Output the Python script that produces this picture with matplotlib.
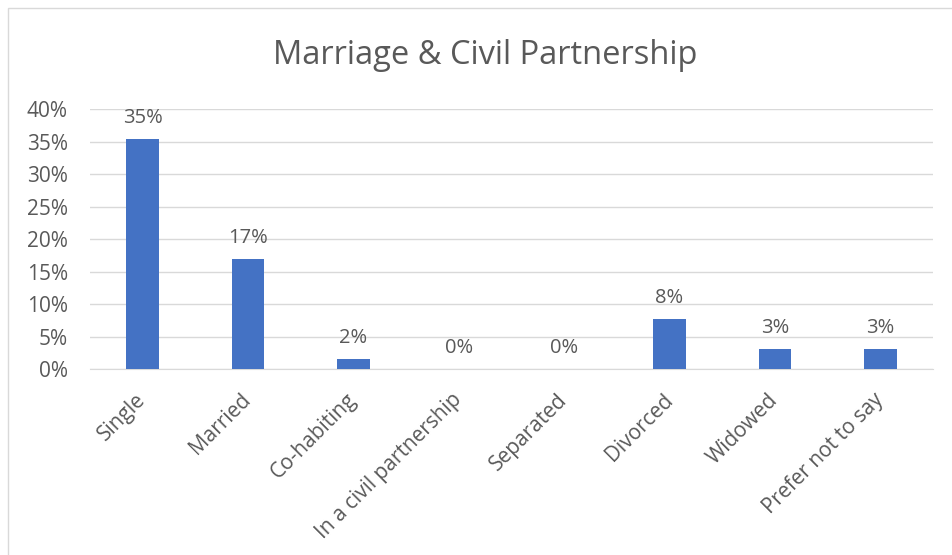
import matplotlib.pyplot as plt
from matplotlib.patches import Rectangle
from matplotlib.ticker import PercentFormatter
import numpy as np

categories = ["Single", "Married", "Co-habiting", "In a civil partnership",
              "Separated", "Divorced", "Widowed", "Prefer not to say"]
values = [35.4, 16.9, 1.6, 0.0, 0.0, 7.7, 3.1, 3.1]
labels = ["35%", "17%", "2%", "0%", "0%", "8%", "3%", "3%"]
yticks = [0, 5, 10, 15, 20, 25, 30, 35, 40]

plt.rcParams['font.family'] = ['Open Sans', 'DejaVu Sans']
txt = '#595959'

fig = plt.figure(figsize=(9.52, 5.55), dpi=100)
ax = fig.add_axes([0.0945, 0.335, 0.8855, 0.4686])

x = np.arange(len(categories))
bars = ax.bar(x, values, width=0.31, color='#4472C4', zorder=3)
for b, lab in zip(bars, labels):
    ax.annotate(lab, (b.get_x() + b.get_width() / 2, b.get_height()),
                xytext=(0, 8), textcoords='offset points',
                ha='center', va='bottom', fontsize=14.5, color=txt)

ax.set_xlim(-0.5, len(categories) - 0.5)
ax.set_ylim(0, 40)
ax.set_yticks(yticks)
ax.yaxis.set_major_formatter(PercentFormatter(decimals=0))
ax.grid(axis='y', color='#D9D9D9', linewidth=1, zorder=0)
for s in ['top', 'right', 'left']:
    ax.spines[s].set_visible(False)
ax.spines['bottom'].set_color('#D9D9D9')
ax.tick_params(axis='both', length=0, labelsize=15, labelcolor=txt)
ax.tick_params(axis='y', pad=16)
ax.set_xticks(x)
ax.set_xticklabels(categories, rotation=45, ha='right', va='center',
                   rotation_mode='anchor')
ax.tick_params(axis='x', pad=20)

fig.text(0.51, 0.9, "Marriage & Civil Partnership", ha='center', va='center',
         fontsize=23.5, color=txt)

# chart border
fig.patches.append(Rectangle((8 / 952, -0.01), 1.2, 1.0 - 8 / 555 + 0.01,
                             transform=fig.transFigure, fill=False,
                             edgecolor='#D9D9D9', linewidth=1))

fig.savefig('out.png', dpi=100)
